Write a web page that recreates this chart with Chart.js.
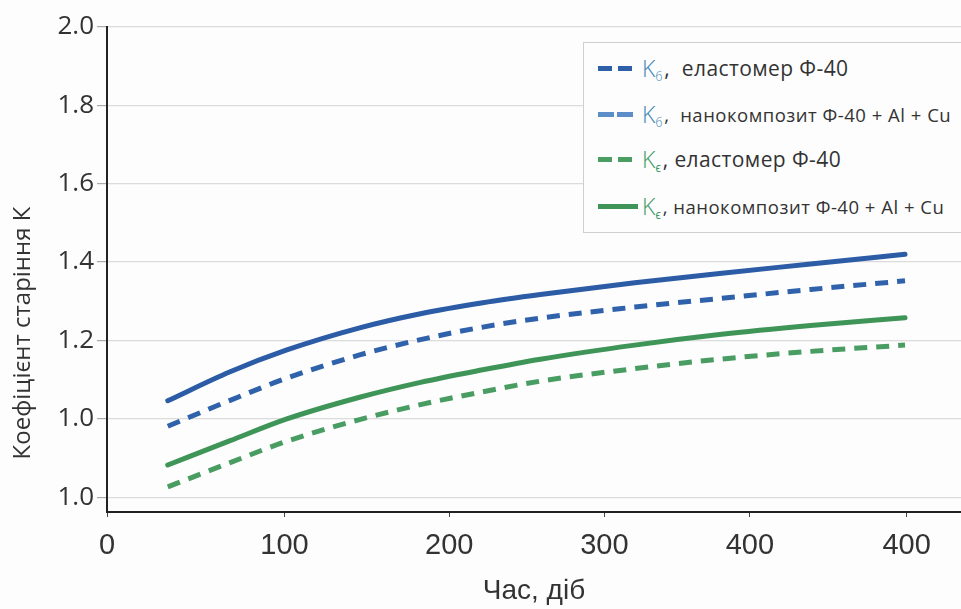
<!DOCTYPE html>
<html>
<head>
<meta charset="utf-8">
<script src="https://cdn.jsdelivr.net/npm/chart.js@4"></script>
<style>
  html, body { margin: 0; padding: 0; background: #fdfdfd; }
  body { width: 961px; height: 609px; overflow: hidden; position: relative; font-family: "Open Sans", sans-serif; }
  #wrap { position: absolute; left: 0; top: 0; width: 961px; height: 609px; }
  #legend {
    position: absolute; left: 583px; top: 42px; width: 420px; height: 191px;
    border: 1.5px solid #cfcfcf; background: #fdfdfd; box-sizing: border-box;
  }
  .item { position: absolute; left: 14px; height: 30px; display: flex; align-items: center; white-space: nowrap; color: #333; }
  .sym { display: inline-block; width: 42px; height: 5px; position: relative; margin-right: 2px; }
  .sym span { position: absolute; top: 0; height: 5px; }
  .k { font-size: 23px; font-weight: 300; }
  .k sub { font-size: 12px; vertical-align: -4px; }
  .t1 { font-size: 21px; letter-spacing: 0.4px; margin-left: 2px; }
  .t2 { font-size: 18.5px; letter-spacing: 0.5px; margin-left: 2px; }
</style>
</head>
<body>
<div id="wrap"><canvas id="myChart" width="961" height="609"></canvas></div>
<div id="legend">
  <div class="item" style="top:10px">
    <span class="sym"><span style="left:0;width:14px;background:#2f5fa6"></span><span style="left:20px;width:14px;background:#2f5fa6"></span></span>
    <span class="k" style="color:#3d86b8">K<sub>б</sub></span><span class="t1">,&nbsp;&nbsp;еластомер Ф-40</span>
  </div>
  <div class="item" style="top:56px">
    <span class="sym"><span style="left:0;width:16px;background:#5b8dc9"></span><span style="left:19px;width:16px;background:#5b8dc9"></span></span>
    <span class="k" style="color:#3d86b8">K<sub>б</sub></span><span class="t2">,&nbsp;&nbsp;нанокомпозит Ф-40 + Al + Cu</span>
  </div>
  <div class="item" style="top:101px">
    <span class="sym"><span style="left:0;width:14px;background:#4a9e62"></span><span style="left:20px;width:14px;background:#4a9e62"></span></span>
    <span class="k" style="color:#3e9a66">K<sub>ϵ</sub></span><span class="t1">, еластомер Ф-40</span>
  </div>
  <div class="item" style="top:148px">
    <span class="sym"><span style="left:0;width:40px;background:#3f9558"></span></span>
    <span class="k" style="color:#3e9a66">K<sub>ϵ</sub></span><span class="t2">, нанокомпозит Ф-40 + Al + Cu</span>
  </div>
</div>
<script>
// x values in the picture's own axis units
var days = [38, 77, 112, 158, 196, 235, 271, 330, 383, 440, 499];

var kSigmaElastomer = [0.981, 1.047, 1.103, 1.163, 1.202, 1.234, 1.257, 1.285, 1.307, 1.330, 1.352];
var kSigmaNano      = [1.046, 1.120, 1.175, 1.232, 1.268, 1.296, 1.317, 1.347, 1.371, 1.395, 1.420];
var kEpsElastomer   = [0.826, 0.888, 0.942, 0.998, 1.036, 1.069, 1.096, 1.128, 1.152, 1.172, 1.188];
var kEpsNano        = [0.882, 0.944, 0.999, 1.055, 1.093, 1.125, 1.152, 1.188, 1.215, 1.238, 1.258];

var xTickPos = [0, 111, 214, 311, 402, 500];
var xTickLabels = ['0', '100', '200', '300', '400', '400'];
var yTickPos = [0.8, 1.0, 1.2, 1.4, 1.6, 1.8, 2.0];
var yTickLabels = ['1.0', '1.0', '1.2', '1.4', '1.6', '1.8', '2.0'];

var yTitle = 'Коефіцієнт старіння К';
var xTitle = 'Час, діб';

function pts(arr) {
    return arr.map(function (v, i) { return { x: days[i], y: v }; });
}

// y title sits lower than the axis centre in the original
var yTitlePlugin = {
    id: 'yTitle',
    afterDraw: function (chart) {
        var ctx = chart.ctx;
        ctx.save();
        ctx.translate(23, 333);
        ctx.rotate(-Math.PI / 2);
        ctx.font = '24px "Open Sans"';
        ctx.fillStyle = '#333';
        ctx.textAlign = 'center';
        ctx.textBaseline = 'middle';
        ctx.fillText(yTitle, 0, 0);
        ctx.restore();
    }
};

var ctx = document.getElementById('myChart').getContext('2d');

window.myChart = new Chart(ctx, {
    type: 'line',
    data: {
        datasets: [{
            label: 'Kб, еластомер Ф-40',
            data: pts(kSigmaElastomer),
            borderColor: '#2f62aa',
            borderDash: [13, 9],
            borderWidth: 5
        }, {
            label: 'Kб, нанокомпозит Ф-40 + Al + Cu',
            data: pts(kSigmaNano),
            borderColor: '#2c5ca5',
            borderWidth: 5,
            borderCapStyle: 'round'
        }, {
            label: 'Kε, еластомер Ф-40',
            data: pts(kEpsElastomer),
            borderColor: '#4a9d62',
            borderDash: [13, 9],
            borderWidth: 5
        }, {
            label: 'Kε, нанокомпозит Ф-40 + Al + Cu',
            data: pts(kEpsNano),
            borderColor: '#3f9558',
            borderWidth: 5,
            borderCapStyle: 'round'
        }]
    },
    options: {
        responsive: false,
        animation: false,
        devicePixelRatio: 1,
        elements: { point: { radius: 0 }, line: { tension: 0.4, cubicInterpolationMode: 'monotone', fill: false } },
        layout: { padding: { top: 27, left: 0, right: 0, bottom: 0 } },
        plugins: { legend: { display: false }, tooltip: { enabled: false } },
        scales: {
            x: {
                type: 'linear',
                min: 0,
                max: 534,
                afterBuildTicks: function (s) {
                    s.ticks = xTickPos.map(function (v) { return { value: v }; });
                },
                afterFit: function (s) { s.height = 97; },
                ticks: {
                    autoSkip: false,
                    maxRotation: 0,
                    padding: 12,
                    color: '#333',
                    font: { family: '"Liberation Sans Narrow", "Liberation Sans", sans-serif', size: 29 },
                    callback: function (v, i) { return xTickLabels[i]; }
                },
                grid: { drawOnChartArea: false, drawTicks: true, tickLength: 5, color: '#444' },
                border: { color: '#222', width: 2 },
                title: {
                    display: true,
                    text: xTitle,
                    color: '#333',
                    font: { family: '"Liberation Sans Narrow", "Liberation Sans", sans-serif', size: 28 },
                    padding: { top: 0, bottom: 1 }
                }
            },
            y: {
                min: 0.762,
                max: 2.0,
                afterBuildTicks: function (s) {
                    s.ticks = yTickPos.map(function (v) { return { value: v }; });
                },
                afterFit: function (s) { s.width = 107; },
                ticks: {
                    padding: 3,
                    color: '#333',
                    font: { family: '"Open Sans", sans-serif', size: 26 },
                    callback: function (v, i) { return yTickLabels[i]; }
                },
                grid: { color: '#dcdcdc', lineWidth: 1.2, tickLength: 10, tickColor: '#aaa' },
                border: { color: '#222', width: 2 }
            }
        }
    },
    plugins: [yTitlePlugin]
});
</script>
</body>
</html>
